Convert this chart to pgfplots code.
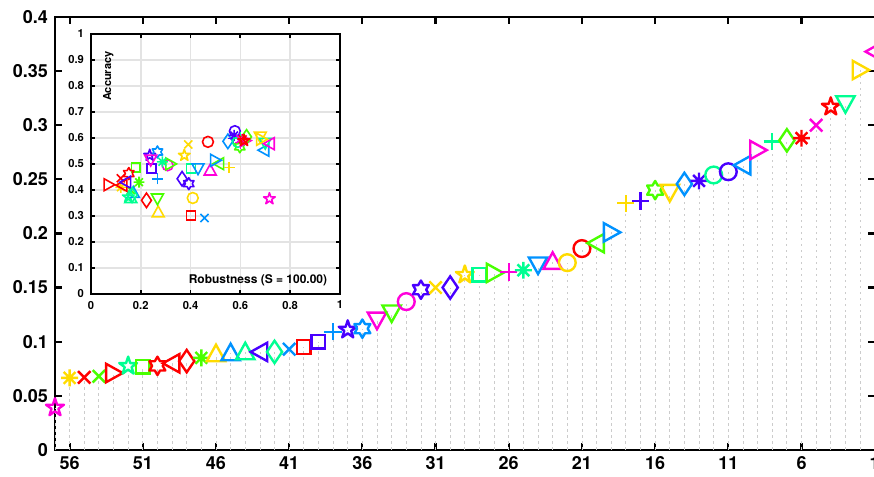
\documentclass[border=0pt]{standalone}
\usepackage{fontspec}
\setmainfont{TeX Gyre Heros}
\usepackage{pgfplots}
\usepackage{pgfplotstable}
\pgfplotsset{compat=1.18}

% hsv(7) colours
\definecolor{cr}{rgb}{1,0,0}
\definecolor{cy}{rgb}{1,0.857,0}
\definecolor{cg}{rgb}{0.286,1,0}
\definecolor{cs}{rgb}{0,1,0.571}
\definecolor{cb}{rgb}{0,0.571,1}
\definecolor{cv}{rgb}{0.286,0,1}
\definecolor{cm}{rgb}{1,0,0.857}

% matlab-like markers
\pgfdeclareplotmark{pp}{%
 \pgfpathmoveto{\pgfqpoint{-\pgfplotmarksize}{0pt}}\pgfpathlineto{\pgfqpoint{\pgfplotmarksize}{0pt}}%
 \pgfpathmoveto{\pgfqpoint{0pt}{-\pgfplotmarksize}}\pgfpathlineto{\pgfqpoint{0pt}{\pgfplotmarksize}}%
 \pgfusepathqstroke}
\pgfdeclareplotmark{xx}{%
 \pgfpathmoveto{\pgfqpoint{-\pgfplotmarksize}{-\pgfplotmarksize}}\pgfpathlineto{\pgfqpoint{\pgfplotmarksize}{\pgfplotmarksize}}%
 \pgfpathmoveto{\pgfqpoint{-\pgfplotmarksize}{\pgfplotmarksize}}\pgfpathlineto{\pgfqpoint{\pgfplotmarksize}{-\pgfplotmarksize}}%
 \pgfusepathqstroke}
\pgfdeclareplotmark{ast}{%
 \pgfpathmoveto{\pgfqpoint{-\pgfplotmarksize}{0pt}}\pgfpathlineto{\pgfqpoint{\pgfplotmarksize}{0pt}}%
 \pgfpathmoveto{\pgfqpoint{0pt}{-\pgfplotmarksize}}\pgfpathlineto{\pgfqpoint{0pt}{\pgfplotmarksize}}%
 \pgfpathmoveto{\pgfqpoint{-0.7\pgfplotmarksize}{-0.7\pgfplotmarksize}}\pgfpathlineto{\pgfqpoint{0.7\pgfplotmarksize}{0.7\pgfplotmarksize}}%
 \pgfpathmoveto{\pgfqpoint{-0.7\pgfplotmarksize}{0.7\pgfplotmarksize}}\pgfpathlineto{\pgfqpoint{0.7\pgfplotmarksize}{-0.7\pgfplotmarksize}}%
 \pgfusepathqstroke}
\pgfdeclareplotmark{sq}{%
 \pgfpathrectangle{\pgfqpoint{-\pgfplotmarksize}{-\pgfplotmarksize}}{\pgfqpoint{2\pgfplotmarksize}{2\pgfplotmarksize}}%
 \pgfusepathqstroke}
\pgfdeclareplotmark{dmd}{%
 \pgfpathmoveto{\pgfqpoint{0pt}{\pgfplotmarksize}}\pgfpathlineto{\pgfqpoint{0.68\pgfplotmarksize}{0pt}}%
 \pgfpathlineto{\pgfqpoint{0pt}{-\pgfplotmarksize}}\pgfpathlineto{\pgfqpoint{-0.68\pgfplotmarksize}{0pt}}%
 \pgfpathclose\pgfusepathqstroke}
\pgfdeclareplotmark{tu}{%
 \pgfpathmoveto{\pgfqpoint{0pt}{\pgfplotmarksize}}\pgfpathlineto{\pgfqpoint{-\pgfplotmarksize}{-0.8\pgfplotmarksize}}%
 \pgfpathlineto{\pgfqpoint{\pgfplotmarksize}{-0.8\pgfplotmarksize}}\pgfpathclose\pgfusepathqstroke}
\pgfdeclareplotmark{td}{%
 \pgfpathmoveto{\pgfqpoint{0pt}{-\pgfplotmarksize}}\pgfpathlineto{\pgfqpoint{-\pgfplotmarksize}{0.8\pgfplotmarksize}}%
 \pgfpathlineto{\pgfqpoint{\pgfplotmarksize}{0.8\pgfplotmarksize}}\pgfpathclose\pgfusepathqstroke}
\pgfdeclareplotmark{tr}{%
 \pgfpathmoveto{\pgfqpoint{\pgfplotmarksize}{0pt}}\pgfpathlineto{\pgfqpoint{-0.8\pgfplotmarksize}{\pgfplotmarksize}}%
 \pgfpathlineto{\pgfqpoint{-0.8\pgfplotmarksize}{-\pgfplotmarksize}}\pgfpathclose\pgfusepathqstroke}
\pgfdeclareplotmark{tl}{%
 \pgfpathmoveto{\pgfqpoint{-\pgfplotmarksize}{0pt}}\pgfpathlineto{\pgfqpoint{0.8\pgfplotmarksize}{\pgfplotmarksize}}%
 \pgfpathlineto{\pgfqpoint{0.8\pgfplotmarksize}{-\pgfplotmarksize}}\pgfpathclose\pgfusepathqstroke}
\pgfdeclareplotmark{pgram}{\pgfsetroundjoin
 \pgfpathmoveto{\pgfqpoint{0pt}{\pgfplotmarksize}}%
 \pgfpathlineto{\pgfqpoint{-0.2245\pgfplotmarksize}{0.309\pgfplotmarksize}}%
 \pgfpathlineto{\pgfqpoint{-0.951\pgfplotmarksize}{0.309\pgfplotmarksize}}%
 \pgfpathlineto{\pgfqpoint{-0.363\pgfplotmarksize}{-0.118\pgfplotmarksize}}%
 \pgfpathlineto{\pgfqpoint{-0.588\pgfplotmarksize}{-0.809\pgfplotmarksize}}%
 \pgfpathlineto{\pgfqpoint{0pt}{-0.382\pgfplotmarksize}}%
 \pgfpathlineto{\pgfqpoint{0.588\pgfplotmarksize}{-0.809\pgfplotmarksize}}%
 \pgfpathlineto{\pgfqpoint{0.363\pgfplotmarksize}{-0.118\pgfplotmarksize}}%
 \pgfpathlineto{\pgfqpoint{0.951\pgfplotmarksize}{0.309\pgfplotmarksize}}%
 \pgfpathlineto{\pgfqpoint{0.2245\pgfplotmarksize}{0.309\pgfplotmarksize}}%
 \pgfpathclose\pgfusepathqstroke}
\pgfdeclareplotmark{hgram}{\pgfsetroundjoin
 \pgfpathmoveto{\pgfqpoint{0pt}{\pgfplotmarksize}}%
 \pgfpathlineto{\pgfqpoint{-0.2887\pgfplotmarksize}{0.5\pgfplotmarksize}}%
 \pgfpathlineto{\pgfqpoint{-0.866\pgfplotmarksize}{0.5\pgfplotmarksize}}%
 \pgfpathlineto{\pgfqpoint{-0.577\pgfplotmarksize}{0pt}}%
 \pgfpathlineto{\pgfqpoint{-0.866\pgfplotmarksize}{-0.5\pgfplotmarksize}}%
 \pgfpathlineto{\pgfqpoint{-0.2887\pgfplotmarksize}{-0.5\pgfplotmarksize}}%
 \pgfpathlineto{\pgfqpoint{0pt}{-\pgfplotmarksize}}%
 \pgfpathlineto{\pgfqpoint{0.2887\pgfplotmarksize}{-0.5\pgfplotmarksize}}%
 \pgfpathlineto{\pgfqpoint{0.866\pgfplotmarksize}{-0.5\pgfplotmarksize}}%
 \pgfpathlineto{\pgfqpoint{0.577\pgfplotmarksize}{0pt}}%
 \pgfpathlineto{\pgfqpoint{0.866\pgfplotmarksize}{0.5\pgfplotmarksize}}%
 \pgfpathlineto{\pgfqpoint{0.2887\pgfplotmarksize}{0.5\pgfplotmarksize}}%
 \pgfpathclose\pgfusepathqstroke}

\def\ms{1}
\tikzset{
 mo/.style={mark=o,mark size=\ms*4.2pt},
 mP/.style={mark=pp,mark size=\ms*4.3pt},
 mA/.style={mark=ast,mark size=\ms*4.2pt},
 mX/.style={mark=xx,mark size=\ms*3.1pt},
 mS/.style={mark=sq,mark size=\ms*3.4pt},
 mD/.style={mark=dmd,mark size=\ms*5.6pt},
 mU/.style={mark=tu,mark size=\ms*4.6pt},
 mW/.style={mark=td,mark size=\ms*4.6pt},
 mL/.style={mark=tl,mark size=\ms*4.6pt},
 mR/.style={mark=tr,mark size=\ms*4.6pt},
 mF/.style={mark=pgram,mark size=\ms*4.7pt},
 mH/.style={mark=hgram,mark size=\ms*4.6pt},
}
\pgfplotsset{cls/.style={scatter/classes={
 Fm={mF,draw=cm}, Ay={mA,draw=cy}, Xr={mX,draw=cr}, Xg={mX,draw=cg},
 Rr={mR,draw=cr}, Fs={mF,draw=cs}, Sg={mS,draw=cg}, Hr={mH,draw=cr},
 Lr={mL,draw=cr}, Dr={mD,draw=cr}, Ag={mA,draw=cg}, Uy={mU,draw=cy},
 Ub={mU,draw=cb}, Us={mU,draw=cs}, Lv={mL,draw=cv}, Ds={mD,draw=cs},
 Xb={mX,draw=cb}, Sr={mS,draw=cr}, Sv={mS,draw=cv}, Pb={mP,draw=cb},
 Fv={mF,draw=cv}, Hb={mH,draw=cb}, Wm={mW,draw=cm}, Wg={mW,draw=cg},
 om={mo,draw=cm}, Hv={mH,draw=cv}, Xy={mX,draw=cy}, Dv={mD,draw=cv},
 Fy={mF,draw=cy}, Ss={mS,draw=cs}, Rg={mR,draw=cg}, Pm={mP,draw=cm},
 As={mA,draw=cs}, Wb={mW,draw=cb}, Um={mU,draw=cm}, oy={mo,draw=cy},
 or={mo,draw=cr}, Lg={mL,draw=cg}, Rb={mR,draw=cb}, Py={mP,draw=cy},
 Pv={mP,draw=cv}, Hg={mH,draw=cg}, Wy={mW,draw=cy}, Db={mD,draw=cb},
 Av={mA,draw=cv}, os={mo,draw=cs}, ov={mo,draw=cv}, Lb={mL,draw=cb},
 Rm={mR,draw=cm}, Ps={mP,draw=cs}, Dg={mD,draw=cg}, Ar={mA,draw=cr},
 Xm={mX,draw=cm}, Fr={mF,draw=cr}, Ws={mW,draw=cs}, Ry={mR,draw=cy},
 Lm={mL,draw=cm}}}}

\pgfplotstableread{
k  y      rob   acc   c
57 0.039  0.717 0.366 Fm
56 0.0665 0.120 0.410 Ay
55 0.067  0.120 0.445 Xr
54 0.068  0.160 0.400 Xg
53 0.071  0.072 0.420 Rr
52 0.0775 0.150 0.373 Fs
51 0.0767 0.180 0.486 Sg
50 0.0776 0.152 0.463 Hr
49 0.080  0.125 0.418 Lr
48 0.082  0.223 0.360 Dr
47 0.085  0.193 0.430 Ag
46 0.0887 0.270 0.315 Uy
45 0.0896 0.170 0.390 Ub
44 0.0905 0.160 0.370 Us
43 0.0905 0.140 0.430 Lv
42 0.0905 0.165 0.380 Ds
41 0.093  0.456 0.292 Xb
40 0.095  0.402 0.302 Sr
39 0.0998 0.244 0.482 Sv
38 0.109  0.267 0.443 Pb
37 0.111  0.236 0.533 Fv
36 0.112  0.267 0.546 Hb
35 0.120  0.240 0.515 Wm
34 0.1266 0.267 0.366 Wg
33 0.137  0.308 0.495 om
32 0.148  0.393 0.424 Hv
31 0.150  0.391 0.575 Xy
30 0.150  0.366 0.443 Dv
29 0.1617 0.375 0.533 Fy
28 0.1617 0.402 0.482 Ss
27 0.1635 0.320 0.500 Rg
26 0.1644 0.600 0.580 Pm
25 0.166  0.287 0.508 As
24 0.171  0.430 0.482 Wb
23 0.174  0.479 0.476 Um
22 0.173  0.409 0.369 oy
21 0.186  0.470 0.585 or
20 0.191  0.514 0.501 Lg
19 0.201  0.500 0.514 Rb
18 0.228  0.555 0.486 Py
17 0.230  0.571 0.598 Pv
16 0.240  0.598 0.566 Hg
15 0.238  0.680 0.604 Wy
14 0.2457 0.550 0.587 Db
13 0.2485 0.575 0.610 Av
12 0.254  0.590 0.585 os
11 0.257  0.578 0.626 ov
10 0.263  0.695 0.553 Lb
9  0.277  0.620 0.590 Rm
8  0.285  0.600 0.600 Ps
7  0.286  0.625 0.604 Dg
6  0.288  0.610 0.595 Ar
5  0.300  0.600 0.595 Xm
4  0.317  0.615 0.590 Fr
3  0.320  0.700 0.580 Ws
2  0.351  0.685 0.595 Ry
1  0.368  0.717 0.578 Lm
}\data

\begin{document}
\begin{tikzpicture}
\begin{axis}[
    name=main,
    scale only axis,
    width=410pt, height=216.5pt,
    x dir=reverse,
    xmin=1, xmax=57, ymin=0, ymax=0.4,
    xtick={1,6,...,56},
    ytick={0,0.05,...,0.4},
    yticklabels={0,0.05,0.1,0.15,0.2,0.25,0.3,0.35,0.4},
    tick align=inside,
    major tick length=3.5pt,
    axis line style={line width=1.1pt},
    every tick/.style={black,line width=1.1pt},
    tick label style={font=\bfseries\fontsize{9}{9}\selectfont},
    /pgf/number format/assume math mode=true,
    clip=false,
]
\addplot[ycomb, gray!40, line width=0.4pt, dash pattern=on 1.2pt off 1.8pt]
    table[x=k, y=y]{\data};
\addplot[scatter, only marks, scatter src=explicit symbolic, line width=1.2pt, cls]
    table[x=k, y=y, meta=c]{\data};
\end{axis}

\def\ms{0.65}
\begin{axis}[
    at={(main.south west)}, anchor=south west,
    xshift=18pt, yshift=78pt,
    scale only axis,
    width=124.5pt, height=130pt,
    xmin=0, xmax=1, ymin=0, ymax=1,
    xtick={0,0.2,...,1},
    xticklabels={0,0.2,0.4,0.6,0.8,1},
    ytick={0,0.1,...,1},
    yticklabels={0,0.1,0.2,0.3,0.4,0.5,0.6,0.7,0.8,0.9,1},
    grid=major,
    grid style={gray!22, line width=0.8pt},
    axis background/.style={fill=white},
    tick align=inside,
    major tick length=2pt,
    axis line style={line width=1pt},
    every tick/.style={black,line width=0.9pt},
    tick label style={font=\bfseries\fontsize{5.6}{5.6}\selectfont},
    /pgf/number format/assume math mode=true,
]
\addplot[scatter, only marks, scatter src=explicit symbolic, line width=0.8pt, cls]
    table[x=rob, y=acc, meta=c]{\data};
\node[rotate=90, font=\bfseries\fontsize{5.5}{5.5}\selectfont] at (rel axis cs:0.07,0.838) {Accuracy};
\node[font=\bfseries\fontsize{6}{6}\selectfont] at (rel axis cs:0.671,0.054) {Robustness (S = 100.00)};
\end{axis}

\pgfresetboundingbox
\useasboundingbox ([xshift=-27.5pt,yshift=-13.5pt]main.south west) rectangle ([xshift=-0.35pt,yshift=8.5pt]main.north east);
\end{tikzpicture}
\end{document}
